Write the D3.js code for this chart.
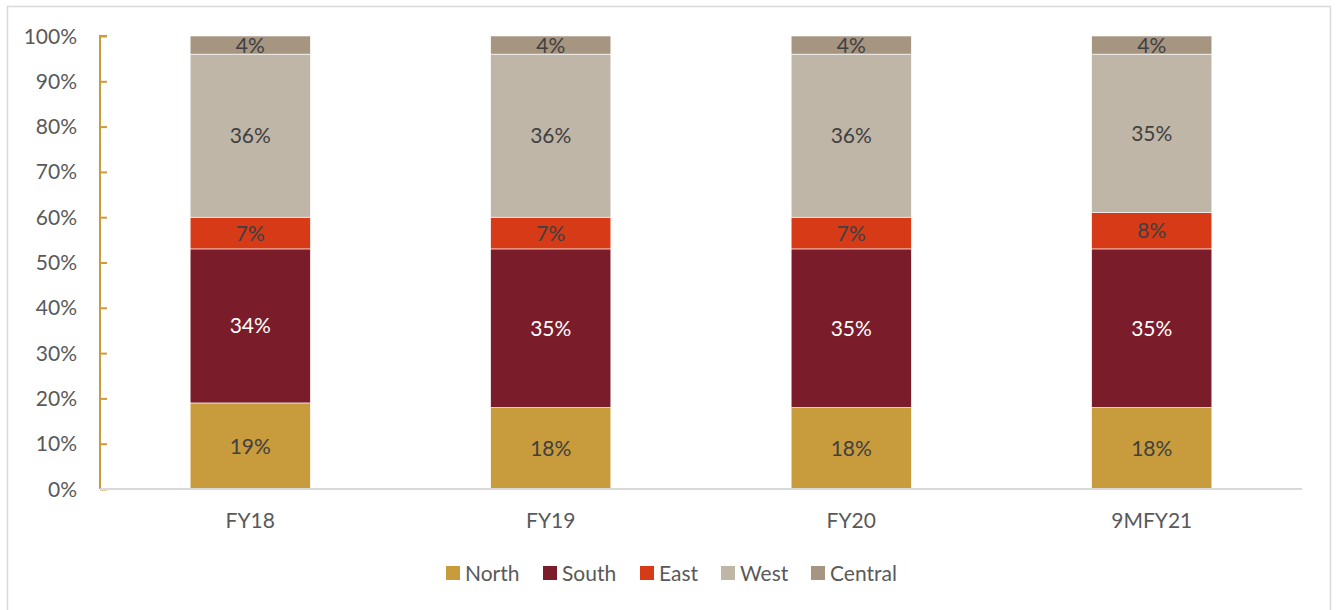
<!DOCTYPE html>
<html><head><meta charset="utf-8">
<script src="https://cdn.jsdelivr.net/npm/d3@7/dist/d3.min.js"></script>
<style>body{margin:0;background:#fff;} svg{display:block;font-family:Lato,"Open Sans",sans-serif;}</style>
</head><body>
<svg id="c" width="1337" height="610"></svg>
<script>
const categories = ["FY18","FY19","FY20","9MFY21"];
const seriesNames = ["North","South","East","West","Central"];
const north   = [19,18,18,18];
const south   = [34,35,35,35];
const east    = [7,7,7,8];
const west    = [36,36,36,35];
const central = [4,4,4,4];
const yTicks = [0,10,20,30,40,50,60,70,80,90,100];
const colors = ["#C89B3C","#7B1C2A","#D63A16","#BFB6A8","#A69580"];
const labelColors = ["#404040","#ffffff","#404040","#404040","#404040"];

const values = [north,south,east,west,central];
const rows = categories.map((c,i)=>{const r={cat:c}; seriesNames.forEach((s,j)=>r[s]=values[j][i]); return r;});
const stack = d3.stack().keys(seriesNames)(rows);

const svg = d3.select("#c");
const FS = 21;
// frame
svg.append("rect").attr("x",7.5).attr("y",6.5).attr("width",1323).attr("height",610).attr("fill","none").attr("stroke","#d9d9d9").attr("stroke-width",1.5);

const x = d3.scaleBand().domain(categories).range([100,1302]).paddingInner(0.6).paddingOuter(0.3);
const y = d3.scaleLinear().domain([0,100]).range([489,36]);

// bars
const g = svg.append("g");
stack.forEach((layer,j)=>{
  g.selectAll(null).data(layer).enter().append("rect")
    .attr("x",d=>x(d.data.cat)).attr("width",x.bandwidth())
    .attr("y",d=>y(d[1])).attr("height",d=>y(d[0])-y(d[1]))
    .attr("fill",colors[j]).attr("stroke","#fff").attr("stroke-width",0.6);
  g.selectAll(null).data(layer).enter().append("text")
    .attr("x",d=>x(d.data.cat)+x.bandwidth()/2)
    .attr("y",d=>(y(d[0])+y(d[1]))/2)
    .attr("dy","0.36em").attr("text-anchor","middle")
    .attr("font-size",FS).attr("fill",labelColors[j])
    .text(d=>(d[1]-d[0])+"%");
});

// y axis
const ya = svg.append("g").attr("transform","translate(100,0)")
  .call(d3.axisRight(y).tickValues(yTicks).tickSize(7).tickFormat(""));
ya.select(".domain").attr("stroke","#C89B3C").attr("stroke-width",2).attr("d","M7,36H0V489");
ya.selectAll(".tick line").attr("stroke","#C89B3C").attr("stroke-width",2);
svg.append("g").selectAll("text").data(yTicks).enter().append("text")
  .attr("x",77).attr("y",d=>y(d)).attr("dy","0.36em").attr("text-anchor","end")
  .attr("font-size",FS).attr("fill","#595959").text(d=>d+"%");

// x axis
const xa = svg.append("g").attr("transform","translate(0,489)")
  .call(d3.axisBottom(x).tickSize(0).tickPadding(24));
xa.select(".domain").attr("stroke","#d9d9d9").attr("stroke-width",2).attr("d","M100,0H1302");
xa.selectAll("text").attr("font-size",FS).attr("fill","#595959").attr("font-family","Lato,'Open Sans',sans-serif");

// legend
const legX = [446,543,640,721,811];
const lg = svg.append("g");
seriesNames.forEach((s,j)=>{
  lg.append("rect").attr("x",legX[j]).attr("y",566).attr("width",14).attr("height",14).attr("fill",colors[j]);
  lg.append("text").attr("x",legX[j]+19).attr("y",573).attr("dy","0.36em")
    .attr("font-size",FS).attr("fill","#595959").text(s);
});
</script>
</body></html>
